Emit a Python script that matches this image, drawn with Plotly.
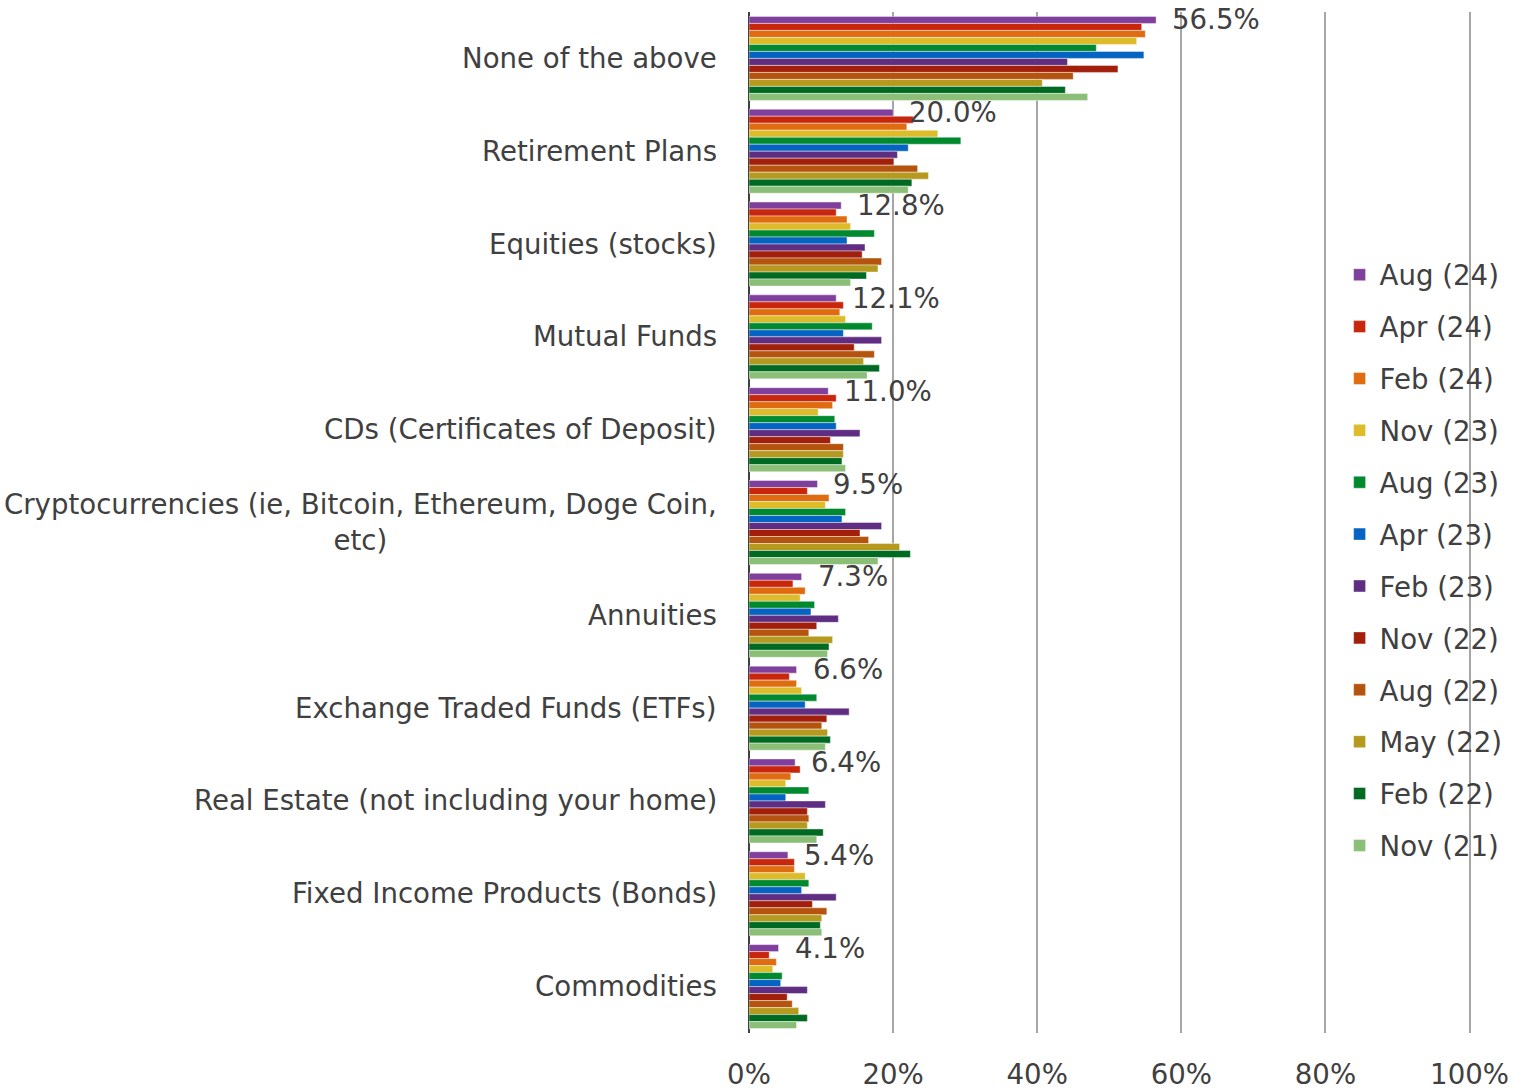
import plotly.graph_objects as go

categories = [
    "None of the above",
    "Retirement Plans",
    "Equities (stocks)",
    "Mutual Funds",
    "CDs (Certificates of Deposit)",
    "Cryptocurrencies (ie, Bitcoin, Ethereum, Doge Coin,<br>etc)",
    "Annuities",
    "Exchange Traded Funds (ETFs)",
    "Real Estate (not including your home)",
    "Fixed Income Products (Bonds)",
    "Commodities",
]

series_names = [
    "Aug (24)", "Apr (24)", "Feb (24)", "Nov (23)", "Aug (23)", "Apr (23)",
    "Feb (23)", "Nov (22)", "Aug (22)", "May (22)", "Feb (22)", "Nov (21)",
]

aug_24 = [56.5, 20.0, 12.8, 12.1, 11.0, 9.5, 7.3, 6.6, 6.4, 5.4, 4.1]
apr_24 = [54.5, 22.8, 12.1, 13.1, 12.1, 8.1, 6.1, 5.6, 7.1, 6.3, 2.8]
feb_24 = [55.0, 21.9, 13.6, 12.6, 11.6, 11.1, 7.8, 6.6, 5.8, 6.3, 3.8]
nov_23 = [53.8, 26.2, 14.1, 13.4, 9.6, 10.6, 7.1, 7.3, 5.1, 7.8, 3.3]
aug_23 = [48.2, 29.4, 17.4, 17.1, 11.9, 13.4, 9.1, 9.4, 8.3, 8.3, 4.6]
apr_23 = [54.8, 22.1, 13.6, 13.1, 12.1, 12.9, 8.6, 7.8, 5.1, 7.3, 4.4]
feb_23 = [44.2, 20.6, 16.1, 18.4, 15.4, 18.4, 12.4, 13.9, 10.6, 12.1, 8.1]
nov_22 = [51.2, 20.1, 15.7, 14.6, 11.3, 15.4, 9.4, 10.8, 8.1, 8.8, 5.3]
aug_22 = [45.0, 23.4, 18.4, 17.4, 13.1, 16.6, 8.3, 10.1, 8.3, 10.8, 6.0]
may_22 = [40.7, 24.9, 17.9, 15.9, 13.1, 20.9, 11.6, 10.9, 8.1, 10.1, 6.9]
feb_22 = [43.9, 22.6, 16.3, 18.1, 12.9, 22.4, 11.1, 11.3, 10.3, 9.9, 8.1]
nov_21 = [47.0, 22.1, 14.1, 16.4, 13.4, 17.9, 10.9, 10.6, 9.4, 10.1, 6.6]

series_values = [aug_24, apr_24, feb_24, nov_23, aug_23, apr_23,
                 feb_23, nov_22, aug_22, may_22, feb_22, nov_21]

series_colors = [
    "#7F3F9C", "#C9260E", "#E06C12", "#DDBB2A", "#00892F", "#0563C1",
    "#5F2E82", "#A21F0B", "#B5540F", "#B69A1F", "#006A22", "#8BBF78",
]

x_ticks = [0, 20, 40, 60, 80, 100]
x_tick_labels = ["0%", "20%", "40%", "60%", "80%", "100%"]

TEXT = "#404040"
FONT = "DejaVu Sans"
SIZE = 27.6

fig = go.Figure()
for name, vals, color in zip(series_names, series_values, series_colors):
    fig.add_trace(go.Bar(
        y=categories,
        x=vals,
        name=name,
        orientation="h",
        legendgroup=name,
        marker=dict(color=color, line=dict(color="rgba(255,255,255,0.7)", width=0.6)),
        hoverinfo="x+name",
    ))

# Category labels on the left (multi-line labels centred)
for cat in categories:
    fig.add_annotation(
        x=0, xref="paper", y=cat, yref="y",
        text=cat, showarrow=False,
        xanchor="right", align="center", xshift=-30,
        font=dict(family=FONT, size=SIZE, color=TEXT),
    )

# Latest-wave value labels next to the Aug (24) bars
for cat, v in zip(categories, aug_24):
    fig.add_annotation(
        x=v, xref="x", y=cat, yref="y",
        text=f"{v:.1f}%", showarrow=False,
        xanchor="left", yanchor="middle", xshift=14, yshift=38.5,
        font=dict(family=FONT, size=SIZE, color=TEXT),
    )

fig.update_layout(
    width=1528, height=1091,
    margin=dict(l=749, r=57, t=12, b=58, autoexpand=False),
    paper_bgcolor="white", plot_bgcolor="white",
    barmode="group", bargap=0.095, bargroupgap=0,
    font=dict(family=FONT, size=SIZE, color=TEXT),
    legend=dict(
        x=0.818, xanchor="left", y=0.463, yanchor="middle",
        bgcolor="rgba(0,0,0,0)", tracegroupgap=13,
        font=dict(family=FONT, size=SIZE, color=TEXT),
        itemwidth=30,
    ),
    showlegend=True,
)

fig.update_xaxes(
    range=[0, 100.2], tickvals=x_ticks, ticktext=x_tick_labels,
    showgrid=True, gridcolor="#A6A6A6", gridwidth=2,
    zeroline=True, zerolinecolor="#404040", zerolinewidth=2,
    showline=False, ticks="", ticklabelstandoff=22, automargin=False,
    tickfont=dict(family=FONT, size=SIZE, color=TEXT),
)
fig.update_yaxes(
    range=[len(categories) - 0.5, -0.5], showticklabels=False, showgrid=False,
    showline=False, ticks="", automargin=False,
)

fig.write_html("out.html")
